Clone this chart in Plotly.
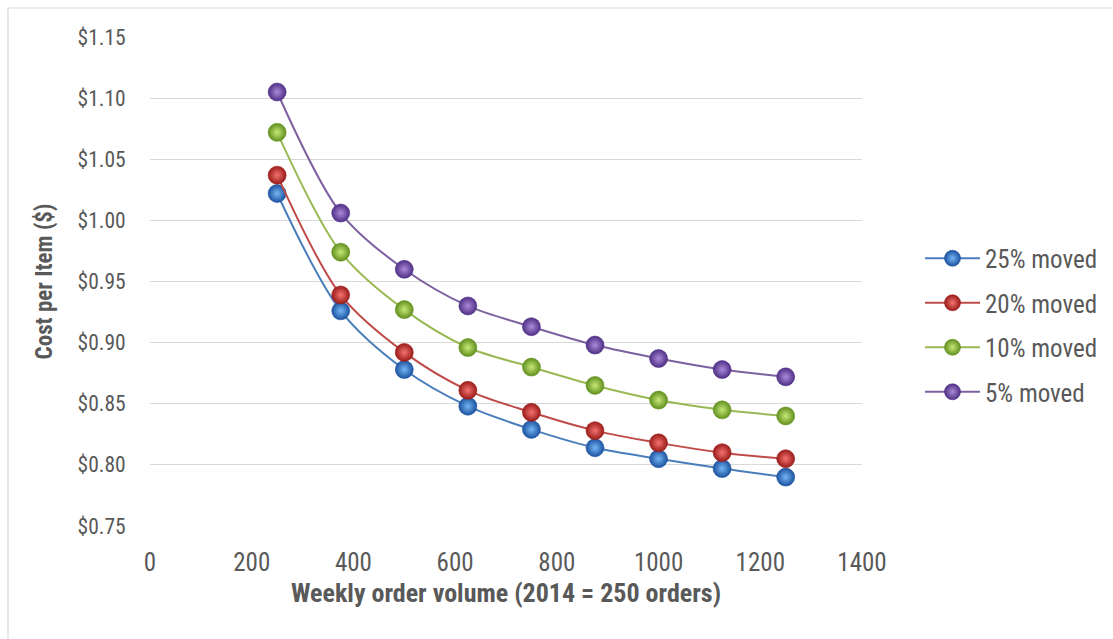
import plotly.graph_objects as go

# Weekly order volume (orders) and cost per item for each share of volume moved
volume = [250, 375, 500, 625, 750, 875, 1000, 1125, 1250]
series_names = ["25% moved", "20% moved", "10% moved", "5% moved"]
cost_25 = [1.022, 0.926, 0.878, 0.848, 0.829, 0.814, 0.805, 0.797, 0.790]
cost_20 = [1.037, 0.939, 0.892, 0.861, 0.843, 0.828, 0.818, 0.810, 0.805]
cost_10 = [1.072, 0.974, 0.927, 0.896, 0.880, 0.865, 0.853, 0.845, 0.840]
cost_5 = [1.105, 1.006, 0.960, 0.930, 0.913, 0.898, 0.887, 0.878, 0.872]

y_ticks = [0.75, 0.80, 0.85, 0.90, 0.95, 1.00, 1.05, 1.10, 1.15]
x_ticks = [0, 200, 400, 600, 800, 1000, 1200, 1400]

# line colour, sphere highlight (centre), sphere shadow (rim)
styles = [
    ("#4a7ebb", "#74b6f4", "#1d52a0"),
    ("#be4b48", "#f47470", "#9a1c1a"),
    ("#98b954", "#c6e878", "#62901e"),
    ("#7d60a0", "#ab8ada", "#503086"),
]

FONT = "Roboto Condensed, Liberation Sans Narrow, Arial Narrow, sans-serif"
TEXT = "#595959"

# plot area in pixels (for the frame drawn around the chart area)
PL, PR, PT, PB = 150, 862, 37, 526
PW, PH = PR - PL, PB - PT

fig = go.Figure()
for name, ys, (line_c, light_c, dark_c) in zip(
    series_names, [cost_25, cost_20, cost_10, cost_5], styles
):
    fig.add_trace(
        go.Scatter(
            x=volume,
            y=ys,
            name=name,
            legendgroup=name,
            mode="lines+markers",
            line=dict(color=line_c, width=2, shape="spline", smoothing=0.9),
            marker=dict(
                size=18,
                # radial gradient runs from gradient.color at the centre
                # to marker.color at the rim
                color=dark_c,
                gradient=dict(type="radial", color=light_c),
                line=dict(color=dark_c, width=0.6),
            ),
        )
    )

# thin frame of the chart area (top and left edges)
fig.add_shape(type="line", xref="paper", yref="paper",
              x0=(8 - PL) / PW, x1=(1125 - PL) / PW,
              y0=(PB - 8) / PH, y1=(PB - 8) / PH,
              line=dict(color="#d9d9d9", width=1.2))
fig.add_shape(type="line", xref="paper", yref="paper",
              x0=(8 - PL) / PW, x1=(8 - PL) / PW,
              y0=(PB - 8) / PH, y1=(PB - 650) / PH,
              line=dict(color="#d9d9d9", width=1.2))

fig.update_layout(
    width=1113,
    height=639,
    margin=dict(l=PL, r=1113 - PR, t=PT, b=639 - PB, autoexpand=False),
    paper_bgcolor="white",
    plot_bgcolor="white",
    font=dict(family=FONT, color=TEXT, size=22),
    showlegend=True,
    legend=dict(
        x=(920 - PL) / PW,
        y=0.411,
        xanchor="left",
        yanchor="middle",
        font=dict(family=FONT, size=25, color=TEXT),
        traceorder="grouped",
        tracegroupgap=9,
        itemwidth=55,
        bgcolor="rgba(0,0,0,0)",
    ),
    xaxis=dict(
        range=[0, 1400],
        tickvals=x_ticks,
        ticktext=[str(v) for v in x_ticks],
        showgrid=False,
        zeroline=False,
        showline=False,
        ticks="outside",
        ticklen=14,
        tickcolor="rgba(0,0,0,0)",
        tickfont=dict(size=25, color=TEXT),
        title=dict(
            text="<b>Weekly order volume (2014 = 250 orders)</b>",
            font=dict(size=26, color=TEXT),
            standoff=7,
        ),
    ),
    yaxis=dict(
        range=[0.75, 1.15],
        tickvals=y_ticks,
        ticktext=["$%.2f" % v for v in y_ticks],
        showgrid=True,
        gridcolor="#d9d9d9",
        gridwidth=1.2,
        zeroline=False,
        showline=False,
        ticks="outside",
        ticklen=19,
        tickcolor="rgba(0,0,0,0)",
        tickfont=dict(size=21.5, color=TEXT),
        title=dict(
            text="<b>Cost per Item ($)</b>",
            font=dict(size=23, color=TEXT),
            standoff=18,
        ),
    ),
)

fig.write_html("out.html")
